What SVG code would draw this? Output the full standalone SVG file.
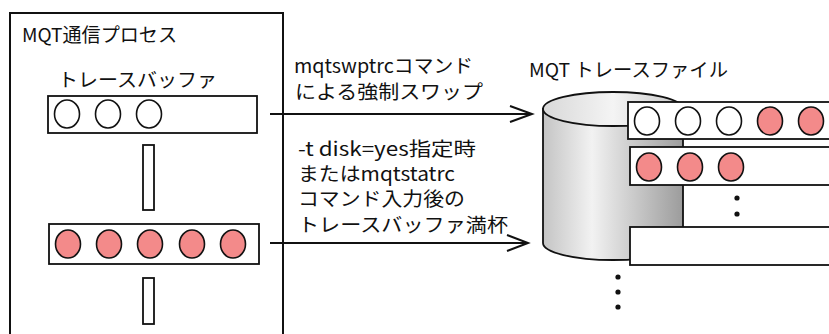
<svg xmlns="http://www.w3.org/2000/svg" width="829" height="334" viewBox="0 0 829 334">
<style>
text{font-family:"Noto Sans CJK JP","Noto Sans",sans-serif;font-size:19px;fill:#111}
.box{fill:#fff;stroke:#111;stroke-width:2}
.buf{fill:#fff;stroke:#111;stroke-width:1.8}
.ce{fill:#fff;stroke:#111;stroke-width:1.6}
.cf{fill:#f38a8a;stroke:#111;stroke-width:1.6}
.ln{fill:none;stroke:#111;stroke-width:2}
.dot{fill:#111}
</style>
<defs>
<linearGradient id="cyl" x1="0" y1="0" x2="1" y2="0">
<stop offset="0" stop-color="#c4c4c4"/>
<stop offset="0.35" stop-color="#f2f2f2"/>
<stop offset="1" stop-color="#9c9c9c"/>
</linearGradient>
<linearGradient id="cyltop" x1="0" y1="0" x2="1" y2="0">
<stop offset="0" stop-color="#d8d8d8"/>
<stop offset="0.5" stop-color="#f4f4f4"/>
<stop offset="1" stop-color="#c8c8c8"/>
</linearGradient>
</defs>

<g id="process">
<path class="ln" d="M10,340 L10,13 L283,13 L283,340"/>
<text x="22" y="42" textLength="155" lengthAdjust="spacingAndGlyphs">MQT通信プロセス</text>
</g>

<g id="buffer1">
<text x="58" y="87" textLength="159" lengthAdjust="spacingAndGlyphs">トレースバッファ</text>
<rect class="buf" x="48" y="96" width="209" height="37"/>
<ellipse class="ce" cx="67" cy="114" rx="12.5" ry="14"/>
<ellipse class="ce" cx="108" cy="114" rx="12.5" ry="14"/>
<ellipse class="ce" cx="149" cy="114" rx="12.5" ry="14"/>
</g>

<g id="sep1"><rect class="buf" x="143" y="145" width="11" height="65"/></g>

<g id="buffer2">
<rect class="buf" x="49" y="224" width="210" height="40"/>
<ellipse class="cf" cx="68" cy="244" rx="12.5" ry="14"/>
<ellipse class="cf" cx="109" cy="244" rx="12.5" ry="14"/>
<ellipse class="cf" cx="150" cy="244" rx="12.5" ry="14"/>
<ellipse class="cf" cx="192" cy="244" rx="12.5" ry="14"/>
<ellipse class="cf" cx="233" cy="244" rx="12.5" ry="14"/>
</g>

<g id="sep2"><rect class="buf" x="143" y="278" width="11" height="46"/></g>

<g id="tracefile">
<text x="529" y="77" textLength="199" lengthAdjust="spacingAndGlyphs">MQT トレースファイル</text>
<path d="M543,109 L543,243 A70,17 0 0 0 683,243 L683,109 Z" fill="url(#cyl)" stroke="#111" stroke-width="1.8"/>
<ellipse cx="613" cy="109" rx="70" ry="17" fill="url(#cyltop)" stroke="#111" stroke-width="1.8"/>
<rect class="buf" x="628" y="102" width="210" height="37"/>
<ellipse class="ce" cx="647" cy="121" rx="12.5" ry="14"/>
<ellipse class="ce" cx="688" cy="121" rx="12.5" ry="14"/>
<ellipse class="ce" cx="729" cy="121" rx="12.5" ry="14"/>
<ellipse class="cf" cx="770" cy="121" rx="12.5" ry="14"/>
<ellipse class="cf" cx="811" cy="121" rx="12.5" ry="14"/>
<rect class="buf" x="630" y="147" width="210" height="38"/>
<ellipse class="cf" cx="649" cy="167" rx="12.5" ry="14"/>
<ellipse class="cf" cx="690" cy="167" rx="12.5" ry="14"/>
<ellipse class="cf" cx="731" cy="167" rx="12.5" ry="14"/>
<circle class="dot" cx="737" cy="198" r="2.6"/>
<circle class="dot" cx="737" cy="214" r="2.6"/>
<rect class="buf" x="630" y="227" width="210" height="38"/>
<circle class="dot" cx="618" cy="277" r="2.6"/>
<circle class="dot" cx="618" cy="292" r="2.6"/>
<circle class="dot" cx="618" cy="307" r="2.6"/>
</g>

<g id="connectors">
<path class="ln" d="M270,114 L531,114 M510,106 L532,114 L510,122"/>
<path class="ln" d="M270,243 L527,243 M507,235 L528,243 L507,251"/>
<text x="294" y="73" textLength="179" lengthAdjust="spacingAndGlyphs">mqtswptrcコマンド</text>
<text x="295" y="99" textLength="188" lengthAdjust="spacingAndGlyphs">による強制スワップ</text>
<text x="298" y="156" textLength="178" lengthAdjust="spacingAndGlyphs">-t disk=yes指定時</text>
<text x="298" y="181" textLength="157" lengthAdjust="spacingAndGlyphs">またはmqtstatrc</text>
<text x="298" y="206" textLength="167" lengthAdjust="spacingAndGlyphs">コマンド入力後の</text>
<text x="298" y="232" textLength="210" lengthAdjust="spacingAndGlyphs">トレースバッファ満杯</text>
</g>
</svg>
